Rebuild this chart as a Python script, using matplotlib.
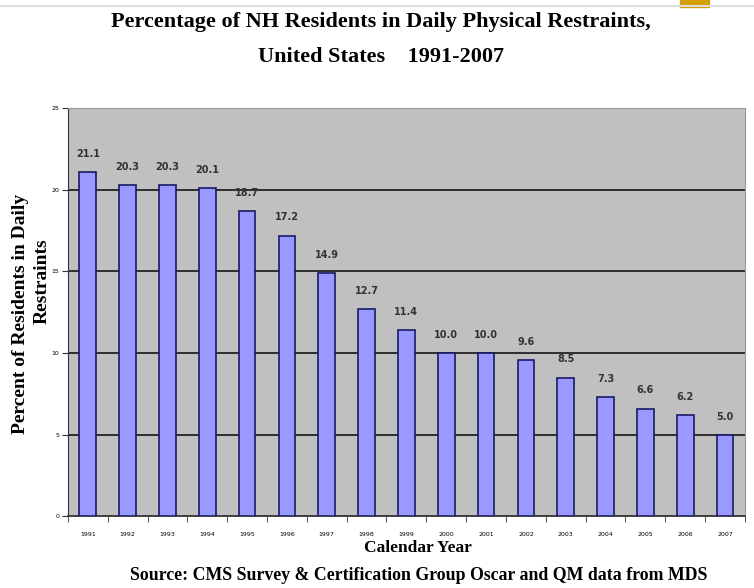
import matplotlib.pyplot as plt
import numpy as np
from matplotlib.patches import Rectangle
from matplotlib.lines import Line2D

# Share of nursing home residents in daily physical restraints
years = ['1991', '1992', '1993', '1994', '1995', '1996', '1997', '1998', '1999',
         '2000', '2001', '2002', '2003', '2004', '2005', '2006', '2007']
percent = [21.1, 20.3, 20.3, 20.1, 18.7, 17.2, 14.9, 12.7, 11.4,
           10.0, 10.0, 9.6, 8.5, 7.3, 6.6, 6.2, 5.0]
yticks = [0, 5, 10, 15, 20, 25]

serif = 'Liberation Serif'

fig = plt.figure(figsize=(7.54, 5.88), dpi=100)
ax = fig.add_axes([0.090, 0.122, 0.898, 0.694])
ax.set_facecolor('#c0c0c0')

x = np.arange(len(years))
ax.bar(x, percent, width=0.42, color='#9999ff', edgecolor='#1a1a66',
       linewidth=1.2, zorder=3)

for xi, v in zip(x, percent):
    ax.text(xi, v + 0.8, f'{v:.1f}', ha='center', va='bottom',
            fontsize=7, fontweight='bold', color='#333333', zorder=4)

ax.set_xlim(-0.5, len(years) - 0.5)
ax.set_ylim(0, 25)
ax.set_yticks(yticks)
ax.set_yticklabels([str(t) for t in yticks], fontsize=4.5)
ax.set_xticks(x)
ax.set_xticklabels(years, fontsize=4.5)
ax.set_xticks(np.arange(-0.5, len(years), 1), minor=True)
ax.tick_params(axis='x', which='major', length=0, pad=11)
ax.tick_params(axis='x', which='minor', length=4, color='#333333')
ax.tick_params(axis='y', length=4, color='#333333', pad=2)

for t in yticks[1:-1]:
    ax.axhline(t, color='#222222', linewidth=1.3, zorder=1)

for side in ['top', 'right']:
    ax.spines[side].set_color('#999999')
ax.spines['left'].set_color('#333333')
ax.spines['bottom'].set_color('#333333')
ax.spines['bottom'].set_linewidth(1.3)

# axis titles
fig.text(0.554, 0.068, 'Calendar Year', ha='center', va='center',
         family=serif, fontweight='bold', fontsize=12.5)
fig.text(0.027, 0.466, 'Percent of Residents in Daily', rotation=90,
         ha='center', va='center', family=serif, fontweight='bold', fontsize=14)
fig.text(0.056, 0.522, 'Restraints', rotation=90,
         ha='center', va='center', family=serif, fontweight='bold', fontsize=14)

fig.text(0.505, 0.963, 'Percentage of NH Residents in Daily Physical Restraints,',
         ha='center', va='center', family=serif, fontweight='bold', fontsize=16)
fig.text(0.505, 0.903, 'United States    1991-2007', ha='center', va='center',
         family=serif, fontweight='bold', fontsize=16)
fig.text(0.555, 0.022, 'Source: CMS Survey & Certification Group Oscar and QM data from MDS',
         ha='center', va='center', family=serif, fontweight='bold', fontsize=12.8)

# slide header strip
fig.add_artist(Line2D([0, 1], [0.989, 0.989], color='#dddddd', linewidth=1.5))
fig.add_artist(Rectangle((0.902, 0.988), 0.038, 0.012, color='#d4a000',
                         transform=fig.transFigure))

fig.savefig('out.png', dpi=100)
